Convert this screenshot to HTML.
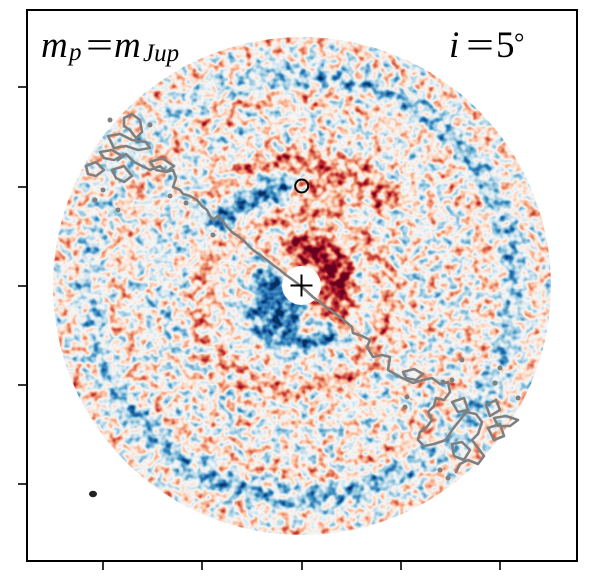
<!DOCTYPE html>
<html><head><meta charset="utf-8">
<style>html,body{margin:0;padding:0;background:#fff;}svg{display:block}
.t{font-family:"Liberation Serif","DejaVu Serif",serif;}</style>
</head>
<body>
<svg width="600" height="586" viewBox="0 0 600 586" xmlns="http://www.w3.org/2000/svg">
<defs>
<clipPath id="disk"><circle cx="302" cy="286" r="249"/></clipPath>
<filter id="f" filterUnits="userSpaceOnUse" x="0" y="0" width="600" height="586" color-interpolation-filters="sRGB">
<feGaussianBlur in="SourceGraphic" stdDeviation="5" result="s"/>
<feTurbulence type="fractalNoise" baseFrequency="0.11" numOctaves="2" seed="7" result="t"/>
<feColorMatrix in="t" type="matrix" values="1 0 0 0 0  1 0 0 0 0  1 0 0 0 0  0 0 0 0 1" result="n"/>
<feComposite in="s" in2="n" operator="arithmetic" k1="0" k2="1" k3="1.0" k4="-0.5" result="c"/>
<feComponentTransfer in="c">
<feFuncR type="table" tableValues="0.020 0.129 0.263 0.573 0.820 0.969 0.992 0.957 0.839 0.698 0.404"/>
<feFuncG type="table" tableValues="0.188 0.400 0.576 0.773 0.898 0.969 0.859 0.647 0.376 0.094 0.000"/>
<feFuncB type="table" tableValues="0.380 0.675 0.765 0.871 0.941 0.969 0.780 0.510 0.302 0.169 0.122"/>
<feFuncA type="linear" slope="0" intercept="1"/>
</feComponentTransfer>
</filter>
</defs>
<rect x="0" y="0" width="600" height="586" fill="#fff"/>

<g clip-path="url(#disk)">
<g filter="url(#f)" fill="none">
<rect x="0" y="0" width="600" height="586" fill="#808080"/>
<circle cx="302" cy="286" r="240" stroke="#fff" stroke-opacity="0.08" stroke-width="18"/>
<circle cx="302" cy="286" r="212" stroke="#000" stroke-opacity="0.15" stroke-width="24"/>
<path d="M407,467.9 A210,210 0 0 1 120.1,391" stroke="#000" stroke-opacity="0.3" stroke-width="22"/>
<path d="M437,125.1 A210,210 0 0 1 437,446.9" stroke="#000" stroke-opacity="0.22" stroke-width="22"/>
<path d="M247.6,83.2 A210,210 0 0 1 437,125.1" stroke="#000" stroke-opacity="0.2" stroke-width="22"/>
<path d="M120.1,391 A210,210 0 0 1 92.8,267.7" stroke="#000" stroke-opacity="0.15" stroke-width="22"/>
<circle cx="302" cy="286" r="189" stroke="#fff" stroke-opacity="0.16" stroke-width="20"/>
<path d="M180.8,356 A140,140 0 0 1 194.8,196" stroke="#000" stroke-opacity="0.1" stroke-width="30"/>
<path d="M215.7,199.7 A122,122 0 0 1 395.5,207.6" stroke="#fff" stroke-opacity="0.4" stroke-width="30"/>
<ellipse cx="320" cy="192" rx="26" ry="20" fill="#fff" fill-opacity="0.3"/>
<path d="M215.5,232 A102,102 0 0 1 289.6,184.8" stroke="#000" stroke-opacity="0.6" stroke-width="30"/>
<ellipse cx="295" cy="303" rx="95" ry="88" stroke="#fff" stroke-opacity="0.3" stroke-width="22"/>
<path d="M284,254.8 A36,36 0 0 1 327.5,311.5" stroke="#fff" stroke-opacity="0.65" stroke-width="34"/>
<path d="M310.8,253.2 A34,34 0 0 1 335.5,291.9" stroke="#fff" stroke-opacity="0.6" stroke-width="28"/>
<path d="M325,305 Q340,318 350,332" stroke="#fff" stroke-opacity="0.45" stroke-width="18"/>
<path d="M299.2,317.9 A32,32 0 0 1 273,272.5" stroke="#000" stroke-opacity="0.8" stroke-width="30"/>
<path d="M339.3,330.4 A58,58 0 0 1 247.5,305.8" stroke="#000" stroke-opacity="0.7" stroke-width="16"/>
</g>
</g>

<circle cx="301.5" cy="285.5" r="19.5" fill="#fff"/>

<g fill="none" stroke="#808080" stroke-width="2.6" stroke-linejoin="round" stroke-linecap="round">
<path d="M118,160 L126,154 L134,162 L142,166 L150,170 L160,166 L166,172 L173,170 L176,178 L173,187 L180,190 L183,194 L190,196 L197,200 L202,206 L207,210 L210,216 L213,220 L218,216 L222,220 L227,227 L233,233 L238,236 L243,240 L248,245 L253,250 L260,255 L267,260 L273,265 L280,270 L286,275 L293,280 L302,287 L313,297 L326,307 L340,317 L352,327 L353,333 L362,336 L370,340 L367,347 L373,357 L382,355 L390,357 L388,370 L400,377 L413,383 L423,380 L432,378 L440,384 L448,382 L450,392 L444,400 L436,398 L434,406 L428,412 L432,420 L426,428 L420,432 L418,440 L424,446 L434,444 L446,440 L452,430 L460,420 L466,412 L476,414 L482,422 L478,434 L472,440 L478,448 L484,456 L478,464 L468,460 L460,464 L456,472"/>
<path d="M124,118 L132,114 L140,120 L142,132 L136,138 L130,130 L124,126 Z"/>
<path d="M108,136 L120,134 L132,140 L146,142 L150,148 L138,150 L126,146 L114,148 Z"/>
<path d="M100,152 L112,150 L122,156 L114,160 L104,158 Z"/>
<path d="M86,166 L96,162 L104,170 L96,176 L88,174 Z"/>
<path d="M112,170 L124,166 L132,176 L124,182 L116,178 Z"/>
<path d="M150,162 L162,158 L174,166 L166,172 L156,170 Z"/>
<path d="M403,372 L414,369 L423,374 L416,380 L406,378 Z"/>
<path d="M452,402 L464,398 L468,410 L458,412 Z"/>
<path d="M486,405 L496,400 L500,410 L490,416 Z"/>
<path d="M488,428 L500,424 L504,436 L494,440 Z"/>
<path d="M494,418 L506,416 L518,420 L510,426 L498,426 Z"/>
<path d="M452,444 L462,442 L470,450 L464,460 L454,456 Z"/>
</g>
<g fill="#808080">
<circle cx="110" cy="120" r="2.5"/><circle cx="150" cy="125" r="2.5"/><circle cx="103" cy="190" r="2.5"/>
<circle cx="95" cy="200" r="2.5"/><circle cx="170" cy="196" r="2.5"/><circle cx="186" cy="203" r="2.5"/>
<circle cx="118" cy="210" r="2.5"/><circle cx="213" cy="235" r="2.5"/><circle cx="462" cy="360" r="2.5"/>
<circle cx="500" cy="368" r="2.5"/><circle cx="452" cy="380" r="2.5"/><circle cx="443" cy="382" r="2.5"/>
<circle cx="495" cy="383" r="2.5"/><circle cx="518" cy="398" r="2.5"/><circle cx="407" cy="397" r="2.5"/>
<circle cx="405" cy="407" r="2.5"/><circle cx="440" cy="470" r="2.5"/><circle cx="448" cy="478" r="2.5"/>
</g>

<g stroke="#000" stroke-width="2" fill="none">
<line x1="290.5" y1="285.5" x2="312.5" y2="285.5"/>
<line x1="301.5" y1="274.5" x2="301.5" y2="296.5"/>
<circle cx="301.7" cy="186" r="6.5"/>
</g>
<ellipse cx="93" cy="494" rx="4" ry="3.2" fill="#222"/>

<rect x="27" y="10" width="550" height="551" fill="none" stroke="#000" stroke-width="2"/>
<g stroke="#000" stroke-width="1.6">
<line x1="18" y1="87" x2="27" y2="87"/>
<line x1="18" y1="187" x2="27" y2="187"/>
<line x1="18" y1="286" x2="27" y2="286"/>
<line x1="18" y1="385" x2="27" y2="385"/>
<line x1="18" y1="484" x2="27" y2="484"/>
<line x1="103" y1="561" x2="103" y2="570"/>
<line x1="202" y1="561" x2="202" y2="570"/>
<line x1="302" y1="561" x2="302" y2="570"/>
<line x1="401" y1="561" x2="401" y2="570"/>
<line x1="500" y1="561" x2="500" y2="570"/>
</g>

<g class="t" fill="#000">
<text x="41" y="57" font-size="37" font-style="italic">m</text>
<text x="69" y="60" font-size="25" font-style="italic">p</text>
<text x="86" y="57" font-size="37" textLength="27" lengthAdjust="spacingAndGlyphs">=</text>
<text x="114" y="57" font-size="37" font-style="italic">m</text>
<text x="143" y="61" font-size="25" font-style="italic">Jup</text>
<text x="449" y="57" font-size="37" font-style="italic">i</text>
<text x="466" y="57" font-size="37" textLength="28" lengthAdjust="spacingAndGlyphs">=</text>
<text x="496" y="57" font-size="37">5</text>
<text x="514" y="51" font-size="26">°</text>
</g>
</svg>
</body></html>
